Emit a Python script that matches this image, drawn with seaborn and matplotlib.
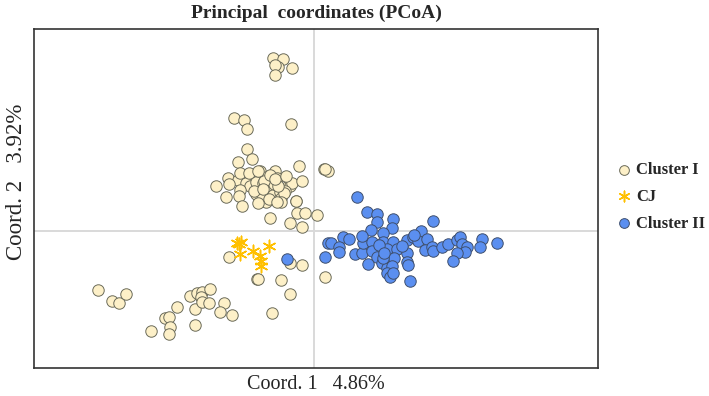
import matplotlib.pyplot as plt
import seaborn as sns
import pandas as pd

# PCoA coordinates (arbitrary units)
cluster1_x = [-0.41, -0.31, -0.36, -0.39, -0.22, -0.39, -0.80, -0.70, -0.67, -0.23,
              -0.67, -0.76, -0.62, -0.15, 0.10, 0.14, -0.54, -0.39, -0.98, -0.86,
              -0.76, -0.68, -0.64, -0.74, -0.75, -0.88, -0.58, -0.56, -0.48, -0.43,
              -0.37, -0.46, -0.41, -0.34, -0.27, -0.24, -0.48, -0.35, -0.72, -0.18,
              -0.17, -0.09, 0.03, -0.44, -0.58, -0.74, -0.51, -0.22, -0.29, -0.40,
              -0.52, -0.60, -0.45, -0.33, -0.30, -0.36, -0.50, -0.44, -0.39, -0.51,
              -0.85, -0.28, -0.12, -0.65, -0.56, -0.56, -0.33, -0.18, -0.37, 0.11,
              -2.16, -2.02, -1.95, -1.88, -1.37, -1.49, -1.45, -1.63, -1.44, -1.45,
              -1.19, -1.19, -1.24, -1.17, -1.12, -1.04, -1.13, -1.12, -1.05, -0.90,
              -0.94, -0.82, -0.24, -0.12]
cluster1_y = [1.73, 1.72, 1.64, 1.66, 1.63, 1.56, 1.13, 1.11, 1.02, 1.07,
              0.82, 0.69, 0.72, 0.65, 0.62, 0.60, 0.60, 0.60, 0.45, 0.53,
              0.51, 0.48, 0.45, 0.41, 0.35, 0.34, 0.37, 0.44, 0.54, 0.51,
              0.53, 0.43, 0.36, 0.39, 0.44, 0.45, 0.29, 0.30, 0.25, 0.30,
              0.18, 0.18, 0.16, 0.13, 0.49, 0.58, 0.48, 0.48, 0.40, 0.47,
              0.36, 0.40, 0.32, 0.33, 0.38, 0.45, 0.50, 0.56, 0.52, 0.42,
              0.47, 0.55, 0.50, 0.58, 0.60, 0.28, 0.29, 0.30, 0.29, 0.62,
              -0.59, -0.70, -0.72, -0.63, -0.76, -0.87, -0.86, -1.00, -0.96, -1.03,
              -0.94, -0.78, -0.65, -0.62, -0.61, -0.58, -0.66, -0.71, -0.72, -0.72,
              -0.81, -0.84, 0.08, 0.04]
cluster1_x += [-0.85, -0.57, -0.56, -0.33, -0.24, -0.42, -0.24, -0.12, 0.11]
cluster1_y += [-0.26, -0.48, -0.48, -0.49, -0.63, -0.82, -0.32, -0.34, -0.46]

cj_x = [-0.77, -0.73, -0.74, -0.61, -0.54, -0.53, -0.53, -0.45, -0.75]
cj_y = [-0.12, -0.11, -0.23, -0.20, -0.25, -0.30, -0.35, -0.15, -0.13]

cluster2_x = [0.43, 0.53, 0.63, 0.79, 0.63, 0.78, 0.57, 0.69, 1.19, 1.07,
              0.29, 0.35, 0.14, 0.17, 0.25, 0.25, 0.11, 0.41, 0.48, 0.49,
              0.58, 0.69, 0.79, 0.73, 0.83, 0.58, 0.63, 0.80, 0.93, 0.93,
              0.99, 1.04, 1.13, 1.11, 1.18, 1.19, 1.28, 1.34, 1.43, 1.46,
              1.48, 1.53, 1.51, 1.43, 1.39, 1.68, 1.66, 1.83, 0.54, 0.68,
              0.73, 0.78, 0.93, 0.94, 0.73, 0.76, 0.79, 0.96, -0.27, 0.69,
              0.65, 0.88, 1.00, 0.48, 0.70]
cluster2_y = [0.34, 0.19, 0.17, 0.12, 0.09, 0.03, 0.01, -0.02, 0.10, 0.00,
              -0.06, -0.08, -0.12, -0.12, -0.16, -0.21, -0.26, -0.23, -0.22, -0.12,
              -0.11, -0.11, -0.11, -0.18, -0.18, -0.20, -0.26, -0.27, -0.22, -0.09,
              -0.06, -0.10, -0.08, -0.19, -0.16, -0.20, -0.16, -0.13, -0.09, -0.06,
              -0.13, -0.16, -0.21, -0.22, -0.30, -0.08, -0.16, -0.12, -0.33, -0.32,
              -0.37, -0.35, -0.31, -0.34, -0.42, -0.46, -0.42, -0.50, -0.28, -0.27,
              -0.14, -0.15, -0.04, -0.05, -0.22]

df1 = pd.DataFrame({'x': cluster1_x, 'y': cluster1_y})
df_cj = pd.DataFrame({'x': cj_x, 'y': cj_y})
df2 = pd.DataFrame({'x': cluster2_x, 'y': cluster2_y})

sns.set_style('white')
plt.rcParams['font.family'] = ['Liberation Serif', 'DejaVu Serif']

fig = plt.figure(figsize=(7.09, 3.96), dpi=100)
ax = fig.add_axes([34 / 709, 1 - 368 / 396, 564 / 709, 339 / 396])

ax.axhline(0, color='#d9d9d9', lw=1.4, zorder=0)
ax.axvline(0, color='#d9d9d9', lw=1.4, zorder=0)

sns.scatterplot(data=df1, x='x', y='y', ax=ax, s=68, color='#fdf0c8',
                edgecolor='#6b6b5a', linewidth=0.7, label='Cluster I', zorder=2)
sns.scatterplot(data=df_cj, x='x', y='y', ax=ax, s=80, marker=(6, 2, 0),
                color='#ffc000', linewidth=1.1, label='CJ', zorder=3)
sns.scatterplot(data=df2, x='x', y='y', ax=ax, s=68, color='#5b8ff0',
                edgecolor='#3e4f6e', linewidth=0.7, label='Cluster II', zorder=4)

ax.set_xlim(-2.80, 2.84)
ax.set_ylim(-1.37, 2.02)
ax.set_xticks([])
ax.set_yticks([])
for side in ax.spines.values():
    side.set_color('#333333')
    side.set_linewidth(1.2)

ax.set_title('Principal  coordinates (PCoA)', fontsize=14, fontweight='bold', pad=8)
ax.set_xlabel('Coord. 1   4.86%', fontsize=14.5, labelpad=5)
ax.set_ylabel('Coord. 2   3.92%', fontsize=16.5)
ax.yaxis.set_label_coords(-0.012, 0.549)

leg = ax.legend(loc='center left', bbox_to_anchor=(1.0, 0.505), frameon=False,
                prop={'weight': 'bold', 'size': 12}, handletextpad=0.2,
                handlelength=1.1, borderaxespad=0.6,
                labelspacing=0.65, markerscale=0.85)

fig.savefig('out.png', dpi=100)
